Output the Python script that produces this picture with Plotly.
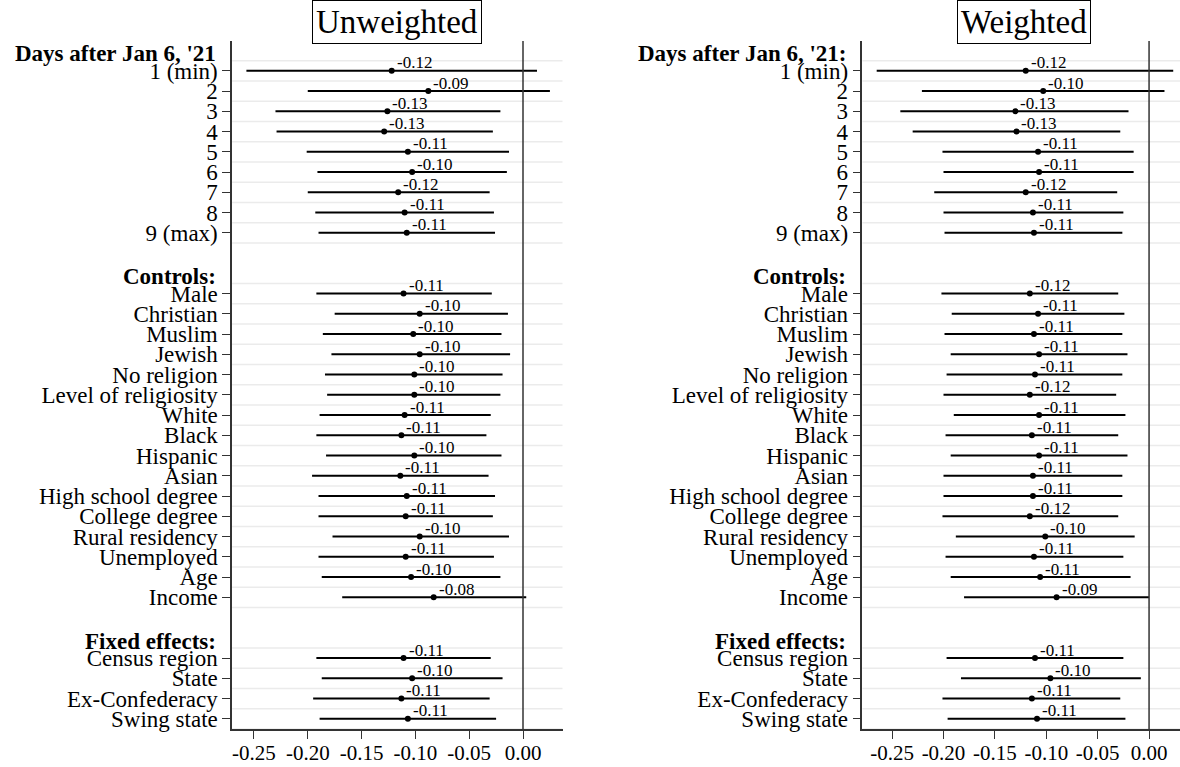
import plotly.graph_objects as go

# Row labels, grouped by section
day_labels = ["1 (min)", "2", "3", "4", "5", "6", "7", "8", "9 (max)"]
control_labels = ["Male", "Christian", "Muslim", "Jewish", "No religion",
                  "Level of religiosity", "White", "Black", "Hispanic", "Asian",
                  "High school degree", "College degree", "Rural residency",
                  "Unemployed", "Age", "Income"]
fe_labels = ["Census region", "State", "Ex-Confederacy", "Swing state"]

# Unweighted estimates with 95% interval bounds
unw_est = [-0.122, -0.088, -0.126, -0.129, -0.107, -0.103, -0.116, -0.110, -0.108,
           -0.111, -0.096, -0.102, -0.096, -0.101, -0.101, -0.110, -0.113, -0.101,
           -0.114, -0.108, -0.109, -0.096, -0.109, -0.104, -0.083,
           -0.111, -0.103, -0.113, -0.107]
unw_lo = [-0.257, -0.200, -0.230, -0.229, -0.201, -0.191, -0.200, -0.193, -0.190,
          -0.192, -0.175, -0.186, -0.178, -0.184, -0.182, -0.189, -0.192, -0.183,
          -0.196, -0.190, -0.190, -0.177, -0.190, -0.187, -0.168,
          -0.192, -0.187, -0.195, -0.189]
unw_hi = [0.013, 0.025, -0.021, -0.028, -0.013, -0.015, -0.031, -0.027, -0.026,
          -0.029, -0.014, -0.020, -0.012, -0.019, -0.021, -0.030, -0.034, -0.020,
          -0.032, -0.026, -0.028, -0.013, -0.027, -0.021, 0.003,
          -0.030, -0.019, -0.031, -0.025]

# Weighted estimates with 95% interval bounds
w_est = [-0.120, -0.103, -0.130, -0.129, -0.108, -0.107, -0.120, -0.113, -0.112,
         -0.116, -0.108, -0.112, -0.107, -0.111, -0.116, -0.107, -0.114, -0.107,
         -0.113, -0.113, -0.116, -0.101, -0.112, -0.106, -0.090,
         -0.111, -0.096, -0.114, -0.109]
w_lo = [-0.265, -0.221, -0.242, -0.230, -0.201, -0.200, -0.209, -0.200, -0.199,
        -0.202, -0.192, -0.199, -0.193, -0.197, -0.200, -0.190, -0.198, -0.193,
        -0.200, -0.200, -0.201, -0.188, -0.198, -0.193, -0.180,
        -0.197, -0.183, -0.201, -0.196]
w_hi = [0.0235, 0.015, -0.020, -0.028, -0.015, -0.015, -0.031, -0.025, -0.026,
        -0.030, -0.024, -0.026, -0.021, -0.026, -0.032, -0.023, -0.030, -0.021,
        -0.026, -0.026, -0.030, -0.014, -0.025, -0.018, 0.000,
        -0.025, -0.008, -0.028, -0.023]

x_ticks = [-0.25, -0.20, -0.15, -0.10, -0.05, 0.00]

sections = [("Days after Jan 6, '21", "Days after Jan 6, '21:", day_labels),
            ("Controls:", "Controls:", control_labels),
            ("Fixed effects:", "Fixed effects:", fe_labels)]

# Row positions: two empty rows between sections
rows, labels, sec_bounds = [], [], []
pos = 0
for _, _, labs in sections:
    start = pos
    for lab in labs:
        rows.append(pos)
        labels.append(lab)
        pos += 1
    sec_bounds.append((start, pos - 1))
    pos += 2

FONT = "Liberation Serif"
W, H = 1180, 767
y_top, y_bot = 41, 729
ydom = [1 - y_bot / H, 1 - y_top / H]
yrange = [32.5, -1.47]

panels = [
    dict(title="Unweighted", est=unw_est, lo=unw_lo, hi=unw_hi, hdr=0,
         dom=[232.1 / W, 562.5 / W], xr=[-0.2703, 0.0367], title_x=397.4),
    dict(title="Weighted", est=w_est, lo=w_lo, hi=w_hi, hdr=1,
         dom=[862.4 / W, 1.0], xr=[-0.2789, 0.0301], title_x=1024.4),
]

fig = go.Figure()
shapes, annotations = [], []
layout = {}

for i, p in enumerate(panels, start=1):
    xa = "x" if i == 1 else f"x{i}"
    ya = "y" if i == 1 else f"y{i}"
    err_plus = [h - e for h, e in zip(p["hi"], p["est"])]
    err_minus = [e - l for e, l in zip(p["est"], p["lo"])]
    fig.add_trace(go.Scatter(
        x=p["est"], y=rows, mode="markers", xaxis=xa, yaxis=ya,
        marker=dict(color="black", size=6),
        error_x=dict(type="data", symmetric=False, array=err_plus,
                     arrayminus=err_minus, color="black", thickness=2, width=0),
        showlegend=False, hoverinfo="skip"))

    # horizontal guides between rows within each section
    for s0, s1 in sec_bounds:
        g = s0 - 0.5
        while g <= s1 + 0.5:
            shapes.append(dict(type="line", xref=f"{xa} domain", x0=0, x1=1,
                               yref=ya, y0=g, y1=g, layer="below",
                               line=dict(color="#ebebeb", width=1.5)))
            g += 1

    # reference line at zero
    shapes.append(dict(type="line", xref=xa, x0=0, x1=0,
                       yref=f"{ya} domain", y0=0, y1=1,
                       line=dict(color="#333333", width=1.5)))

    # estimate labels
    for e, r in zip(p["est"], rows):
        annotations.append(dict(x=e, y=r, xref=xa, yref=ya, text=f"{e:.2f}",
                                xanchor="left", yanchor="middle", xshift=3, yshift=8,
                                showarrow=False,
                                font=dict(family=FONT, size=17, color="black")))

    # section headers
    for (s0, _), sec in zip(sec_bounds, sections):
        annotations.append(dict(x=0, y=s0 - 0.84, xref=f"{xa} domain", yref=ya,
                                text=f"<b>{sec[p['hdr']]}</b>", xanchor="right",
                                yanchor="middle", xshift=-14, showarrow=False,
                                font=dict(family=FONT, size=23, color="black")))

    # panel title in a box
    annotations.append(dict(x=p["title_x"] / W, y=1 - 21.7 / H, xref="paper",
                            yref="paper", text=p["title"], showarrow=False,
                            xanchor="center", yanchor="middle",
                            bordercolor="black", borderwidth=1, borderpad=3,
                            bgcolor="white",
                            font=dict(family=FONT, size=33, color="black")))

    layout[f"xaxis{'' if i == 1 else i}"] = dict(
        domain=p["dom"], range=p["xr"], anchor=ya, tickvals=x_ticks,
        ticktext=[f"{t:.2f}" for t in x_ticks], ticks="outside", ticklen=8,
        tickcolor="#333333", showline=True, linecolor="#333333", linewidth=1.5,
        showgrid=False, zeroline=False, automargin=False, ticklabelstandoff=-4,
        tickfont=dict(family=FONT, size=21, color="black"))
    layout[f"yaxis{'' if i == 1 else i}"] = dict(
        domain=ydom, range=yrange, anchor=xa, tickvals=rows, ticktext=labels,
        ticks="outside", ticklen=8, tickcolor="#333333", showline=True,
        linecolor="#333333", linewidth=1.5, showgrid=False, zeroline=False,
        automargin=False, tickfont=dict(family=FONT, size=23, color="black"))

fig.update_layout(width=W, height=H, margin=dict(l=0, r=0, t=0, b=0),
                  paper_bgcolor="white", plot_bgcolor="white",
                  shapes=shapes, annotations=annotations, showlegend=False,
                  **layout)

fig.write_html("out.html")
